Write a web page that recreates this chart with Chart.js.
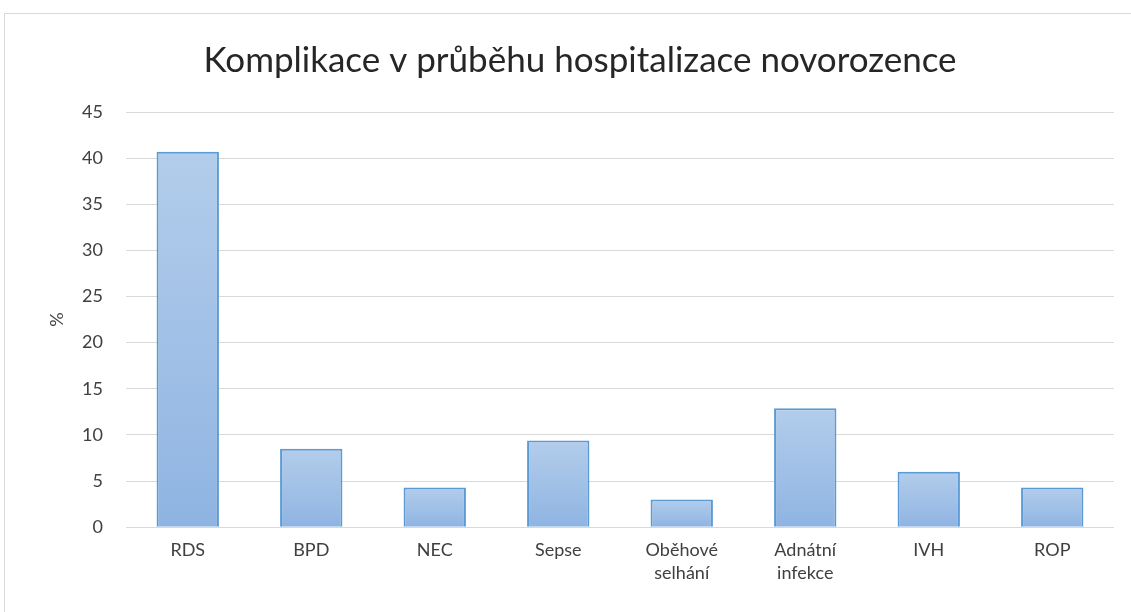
<!DOCTYPE html>
<html>
<head>
<meta charset="utf-8">
<script src="https://cdn.jsdelivr.net/npm/chart.js@4"></script>
<style>
  html, body { margin: 0; padding: 0; background: #fff; }
  #wrap { width: 1131px; height: 612px; }
</style>
</head>
<body>
<div id="wrap"><canvas id="myChart" width="1131" height="612"></canvas></div>
<script>
const labels = ["RDS", "BPD", "NEC", "Sepse", ["Oběhové", "selhání"], ["Adnátní", "infekce"], "IVH", "ROP"];
const values = [40.7, 8.5, 4.3, 9.4, 3.0, 12.9, 6.0, 4.3];
const yTicks = [0, 5, 10, 15, 20, 25, 30, 35, 40, 45];

const FONT = "Lato, 'Open Sans', sans-serif";

// outer frame like the office chart border
const frame = {
  id: "frame",
  beforeDraw(chart) {
    const ctx = chart.ctx;
    ctx.save();
    ctx.fillStyle = "#fff";
    ctx.fillRect(0, 0, chart.width, chart.height);
    ctx.strokeStyle = "#d9d9d9";
    ctx.lineWidth = 1;
    ctx.strokeRect(4.5, 13.5, chart.width + 10, chart.height + 10);
    ctx.restore();
  }
};

// each bar gets its own light-to-dark gradient
function barFill(context) {
  const chart = context.chart;
  const area = chart.chartArea;
  if (!area || context.raw == null) return "#9dbde6";
  const y = chart.scales.y;
  const top = y.getPixelForValue(context.raw);
  const bottom = y.getPixelForValue(0);
  const g = chart.ctx.createLinearGradient(0, top, 0, bottom);
  g.addColorStop(0, "#b3cdeb");
  g.addColorStop(1, "#8fb4e2");
  return g;
}

const data = {
  labels: labels,
  datasets: [{
    data: values,
    backgroundColor: barFill,
    borderColor: "#5b9bd5",
    borderWidth: 2,
    barPercentage: 0.505,
    categoryPercentage: 1,
  }],
};

const options = {
  responsive: false,
  animation: false,
  layout: { padding: { left: 46, right: 17, top: 0, bottom: 24 } },
  plugins: {
    legend: { display: false },
    tooltip: { enabled: false },
    title: {
      display: true,
      text: "Komplikace v průběhu hospitalizace novorozence",
      color: "#262626",
      font: { family: FONT, size: 35, weight: "normal" },
      padding: { top: 40, bottom: 30 },
    },
  },
  scales: {
    x: {
      grid: { display: false },
      border: { display: false },
      ticks: {
        color: "#404040",
        font: { family: FONT, size: 18, lineHeight: 1.3 },
        padding: 3,
        maxRotation: 0,
        autoSkip: false,
      },
    },
    y: {
      min: 0,
      max: 45,
      afterBuildTicks(scale) {
        scale.ticks = yTicks.map(v => ({ value: v }));
      },
      afterFit(scale) { scale.width = 80; },
      grid: { color: "#d9d9d9", lineWidth: 1, drawTicks: false },
      border: { display: false },
      ticks: {
        color: "#404040",
        font: { family: FONT, size: 18 },
        padding: 23,
      },
      title: {
        display: true,
        text: "%",
        color: "#404040",
        font: { family: FONT, size: 18 },
        padding: 0,
      },
    },
  },
};

const myChart = new Chart(document.getElementById("myChart"), {
  type: "bar",
  data: data,
  options,
  plugins: [frame],
});
</script>
</body>
</html>
